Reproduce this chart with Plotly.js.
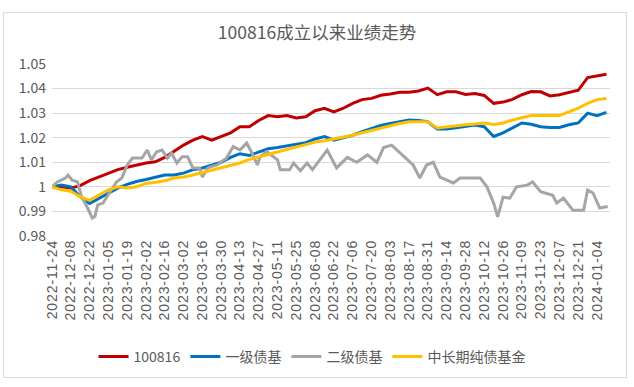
<!DOCTYPE html>
<html>
<head>
<meta charset="utf-8">
<script src="https://cdn.plot.ly/plotly-3.0.1.min.js"></script>
<style>
  html, body { margin: 0; padding: 0; background: #fff; }
  #wrap { position: relative; width: 634px; height: 387px; }
  #chart { width: 634px; height: 387px; }
  #frame { position: absolute; left: 3px; top: 12px; width: 624px; height: 366px;
           border: 1px solid #d9d9d9; pointer-events: none; box-sizing: border-box; }
  #chart .xtick text { letter-spacing: 0.9px; }
</style>
</head>
<body>
<div id="wrap"><div id="chart"></div><div id="frame"></div></div>
<script>
const dates = [
  "2022-11-24","2022-12-01","2022-12-08","2022-12-15","2022-12-22","2022-12-29",
  "2023-01-05","2023-01-12","2023-01-19","2023-01-26","2023-02-02","2023-02-09",
  "2023-02-16","2023-02-23","2023-03-02","2023-03-09","2023-03-16","2023-03-23",
  "2023-03-30","2023-04-06","2023-04-13","2023-04-20","2023-04-27","2023-05-04",
  "2023-05-11","2023-05-18","2023-05-25","2023-06-01","2023-06-08","2023-06-15",
  "2023-06-22","2023-06-29","2023-07-06","2023-07-13","2023-07-20","2023-07-27",
  "2023-08-03","2023-08-10","2023-08-17","2023-08-24","2023-08-31","2023-09-07",
  "2023-09-14","2023-09-21","2023-09-28","2023-10-05","2023-10-12","2023-10-19",
  "2023-10-26","2023-11-02","2023-11-09","2023-11-16","2023-11-23","2023-11-30",
  "2023-12-07","2023-12-14","2023-12-21","2023-12-28","2024-01-04","2024-01-11"
];
const fund100816 = [
  1.000,1.000,0.9995,1.0005,1.0025,1.004,1.0058,1.007,1.008,1.009,1.0097,1.0102,
  1.012,1.0145,1.017,1.019,1.0205,1.019,1.0205,1.022,1.0245,1.0245,1.027,1.029,
  1.0285,1.029,1.028,1.0285,1.031,1.032,1.0305,1.032,1.034,1.0355,1.036,1.0373,
  1.0378,1.0385,1.0385,1.039,1.0402,1.0375,1.0387,1.0387,1.0376,1.038,1.0372,1.034,
  1.0345,1.0356,1.0375,1.0388,1.0387,1.037,1.0375,1.0385,1.0393,1.0445,1.045,1.0458
];
const level1Bond = [
  1.000,1.0007,1.000,0.996,0.9932,0.9952,0.9972,0.9995,1.001,1.0022,1.003,1.004,
  1.0048,1.0048,1.0056,1.007,1.0077,1.0088,1.010,1.012,1.0135,1.0128,1.014,1.0155,
  1.016,1.0166,1.0172,1.018,1.0195,1.0205,1.019,1.020,1.021,1.0225,1.0238,1.025,
  1.0258,1.0265,1.0272,1.027,1.0265,1.0235,1.0235,1.024,1.0247,1.0252,1.0245,1.0205,
  1.022,1.024,1.026,1.0255,1.0245,1.0242,1.0242,1.0253,1.026,1.030,1.029,1.0303
];
const pureBond = [
  1.000,0.9988,0.9982,0.996,0.9945,0.9966,0.9988,1.000,0.9995,1.000,1.0014,1.0019,
  1.0025,1.0036,1.004,1.0048,1.0058,1.0069,1.0077,1.0086,1.0097,1.0112,1.0122,1.0131,
  1.014,1.015,1.016,1.0172,1.0182,1.0188,1.0195,1.0202,1.021,1.022,1.023,1.024,
  1.025,1.0258,1.0265,1.0266,1.0265,1.024,1.0245,1.025,1.0253,1.0256,1.026,1.0254,
  1.026,1.0272,1.0282,1.029,1.029,1.029,1.029,1.0305,1.032,1.034,1.0355,1.036
];
const level2Dates = [
  "2022-11-24","2022-11-28","2022-12-04","2022-12-06","2022-12-09","2022-12-13",
  "2022-12-16","2022-12-20","2022-12-24","2022-12-26","2022-12-28","2023-01-01",
  "2023-01-04","2023-01-08","2023-01-11","2023-01-15","2023-01-19","2023-01-23",
  "2023-01-26","2023-01-30","2023-02-03","2023-02-06","2023-02-10","2023-02-14",
  "2023-02-18","2023-02-21","2023-02-25","2023-03-01","2023-03-05","2023-03-09",
  "2023-03-14","2023-03-16","2023-03-20","2023-03-27","2023-04-03","2023-04-08",
  "2023-04-13","2023-04-18","2023-04-22","2023-04-26","2023-04-28","2023-05-03",
  "2023-05-11","2023-05-13","2023-05-20","2023-05-23","2023-05-28","2023-06-02",
  "2023-06-06","2023-06-17","2023-06-24","2023-07-02","2023-07-09","2023-07-17",
  "2023-07-24","2023-07-29","2023-08-04","2023-08-10","2023-08-20","2023-08-25",
  "2023-08-30","2023-09-04","2023-09-09","2023-09-19","2023-09-24","2023-10-09",
  "2023-10-14","2023-10-19","2023-10-22","2023-10-26","2023-10-31","2023-11-05",
  "2023-11-13","2023-11-17","2023-11-23","2023-12-02","2023-12-05","2023-12-10",
  "2023-12-17","2023-12-25","2023-12-28","2024-01-01","2024-01-06","2024-01-12"
];
const level2Bond = [
  1.000,1.002,1.0036,1.0048,1.0027,1.002,
  0.996,0.992,0.9873,0.988,0.9926,0.9934,
  0.996,0.9995,1.002,1.0036,1.0089,1.0117,
  1.0117,1.0117,1.015,1.011,1.0143,1.015,
  1.0117,1.0138,1.0097,1.0123,1.0123,1.0077,
  1.0077,1.004,1.0077,1.0089,1.0117,1.0164,
  1.015,1.0178,1.0138,1.0089,1.0123,1.0143,
  1.011,1.007,1.007,1.0097,1.0066,1.0097,
  1.007,1.015,1.0077,1.012,1.010,1.013,
  1.010,1.016,1.017,1.0138,1.0089,1.0036,
  1.0089,1.010,1.004,1.0016,1.0036,1.0036,
  1.000,0.9934,0.9878,0.9958,0.9954,1.000,
  1.0007,1.002,0.998,0.9966,0.9934,0.9954,
  0.9905,0.9905,0.9987,0.9975,0.9914,0.992
];
const seriesNames = ["100816","一级债基","二级债基","中长期纯债基金"];
const seriesColors = ["#C00000","#0070C0","#A5A5A5","#FFC000"];
const xTickLabels = [
  "2022-11-24","2022-12-08","2022-12-22","2023-01-05","2023-01-19","2023-02-02",
  "2023-02-16","2023-03-02","2023-03-16","2023-03-30","2023-04-13","2023-04-27",
  "2023-05-11","2023-05-25","2023-06-08","2023-06-22","2023-07-06","2023-07-20",
  "2023-08-03","2023-08-17","2023-08-31","2023-09-14","2023-09-28","2023-10-12",
  "2023-10-26","2023-11-09","2023-11-23","2023-12-07","2023-12-21","2024-01-04"
];
const yTickVals = [0.98,0.99,1.00,1.01,1.02,1.03,1.04,1.05];
const yTickText = ["0.98","0.99","1","1.01","1.02","1.03","1.04","1.05"];

const seriesX = [dates, dates, level2Dates, dates];
const seriesY = [fund100816, level1Bond, level2Bond, pureBond];
const traces = seriesY.map((vals, i) => ({
  type: "scatter", mode: "lines", x: seriesX[i], y: vals, name: seriesNames[i],
  line: { color: seriesColors[i], width: 3 }, hoverinfo: "skip"
}));

const fontFam = "'Noto Sans CJK SC', 'Liberation Sans', sans-serif";
const layout = {
  width: 634, height: 387,
  margin: { l: 52, r: 24, t: 64, b: 151, pad: 0 },
  paper_bgcolor: "#fff", plot_bgcolor: "#fff",
  font: { family: fontFam, color: "#595959" },
  title: { text: "100816成立以来业绩走势", font: { size: 17.5, color: "#595959", family: fontFam },
           xref: "container", x: 0.5, xanchor: "center", yref: "container", y: 0.915, yanchor: "middle" },
  xaxis: {
    type: "date", range: ["2022-11-24", "2024-01-13 16:00"],
    showgrid: false, zeroline: false, showline: false, ticks: "",
    tickmode: "array", tickvals: xTickLabels, ticktext: xTickLabels, tickangle: -90,
    tickfont: { family: "'Liberation Sans', Arial, sans-serif", size: 14, color: "#595959" }
  },
  yaxis: {
    range: [0.98, 1.05], showgrid: true, gridcolor: "#d9d9d9", gridwidth: 1,
    zeroline: false, showline: false, ticks: "", ticklabelstandoff: 5,
    tickmode: "array", tickvals: yTickVals, ticktext: yTickText,
    tickfont: { family: fontFam, size: 14, color: "#595959" }
  },
  showlegend: true,
  legend: { orientation: "h", x: 0.466, xanchor: "center", y: -0.703, yanchor: "middle",
            font: { family: fontFam, size: 14, color: "#595959" }, itemwidth: 30,
            traceorder: "normal", bgcolor: "rgba(0,0,0,0)" }
};
Plotly.newPlot("chart", traces, layout, { staticPlot: true, displayModeBar: false });
</script>
</body>
</html>
